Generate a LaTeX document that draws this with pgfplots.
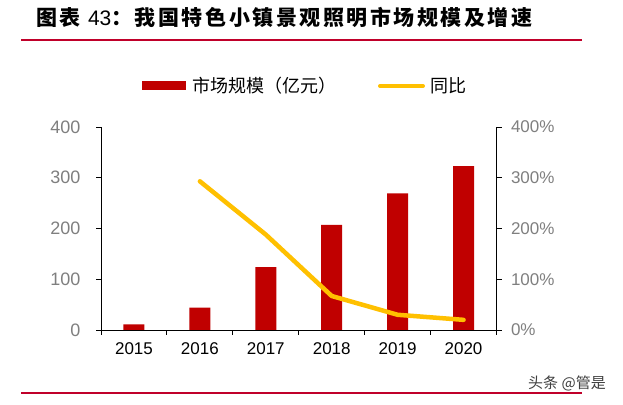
\documentclass[border=0pt]{standalone}
\usepackage{pgfplots}
\pgfplotsset{compat=1.18}
\usepackage{fontspec}
\setmainfont{Liberation Sans}
\newfontfamily\cjk{Noto Sans CJK SC}
\newfontfamily\cjkt[LetterSpace=12]{Noto Sans CJK SC}
\definecolor{barred}{HTML}{C00000}
\definecolor{lineyel}{HTML}{FFC000}
\definecolor{ticklab}{HTML}{7F7F7F}
\definecolor{rulered}{HTML}{C0002A}
\begin{document}
\begin{tikzpicture}[x=1pt,y=1pt]
\useasboundingbox (0,0) rectangle (623,404);
\fill[white] (0,0) rectangle (623,404);
% title
\node[anchor=west,inner sep=0] at (36,387) {\cjkt\bfseries\fontsize{21}{21}\selectfont 图表 {\rmfamily\mdseries 43}：我国特色小镇景观照明市场规模及增速};
\draw[rulered, line width=2pt] (21,364) -- (582,364);
% legend
\fill[barred] (142,314) rectangle (186,323);
\node[anchor=west,inner sep=0] at (192,318) {\cjk\fontsize{18}{18}\selectfont 市场规模（亿元）};
\draw[lineyel, line width=4pt, line cap=round] (380,318) -- (423,318);
\node[anchor=west,inner sep=0] at (430,318) {\cjk\fontsize{18}{18}\selectfont 同比};
% bottom rule and watermark
\draw[rulered, line width=2pt] (21,11) -- (582,11);
\node[anchor=west,inner sep=0,text=black!75] at (528,21) {\cjk\fontsize{15}{15}\selectfont 头条 @管是};
\begin{axis}[
  at={(101pt,74pt)}, anchor=south west, scale only axis,
  width=395.5pt, height=203pt,
  xmin=-0.5, xmax=5.5, ymin=0, ymax=400,
  axis y line*=left, axis x line*=bottom,
  axis line style={black, line width=0.9pt},
  xtick={-0.5,0.5,...,5.5},
  xticklabels={2015,2016,2017,2018,2019,2020},
  x tick label as interval,
  ytick={0,100,...,400},
  tick align=outside, major tick length=5pt,
  tick style={black, line width=0.9pt},
  /pgf/number format/assume math mode=true,
  yticklabel style={text=ticklab, font=\fontsize{18}{18}\selectfont, xshift=-12pt},
  xticklabel style={text=black, font=\fontsize{17}{17}\selectfont, yshift=-4pt},
  clip=false,
]
\addplot[ybar, bar width=21pt, fill=barred, draw=none] coordinates {(0,11) (1,44) (2,124) (3,207) (4,269) (5,323)};
\end{axis}
\begin{axis}[
  at={(101pt,74pt)}, anchor=south west, scale only axis,
  width=395.5pt, height=203pt,
  xmin=-0.5, xmax=5.5, ymin=0, ymax=400,
  axis x line=none, axis y line*=right,
  axis line style={black, line width=0.9pt},
  ytick={0,100,...,400},
  tick align=outside, major tick length=5pt,
  tick style={black, line width=0.9pt},
  /pgf/number format/assume math mode=true,
  yticklabel={\pgfmathprintnumber{\tick}\%},
  yticklabel style={text=ticklab, font=\fontsize{17}{17}\selectfont, xshift=6pt},
  clip=false,
]
\addplot[lineyel, line width=4.5pt, line join=round, line cap=round] coordinates {(1,293) (2,188) (3,67) (4,30) (5,20)};
\end{axis}
\end{tikzpicture}
\end{document}
